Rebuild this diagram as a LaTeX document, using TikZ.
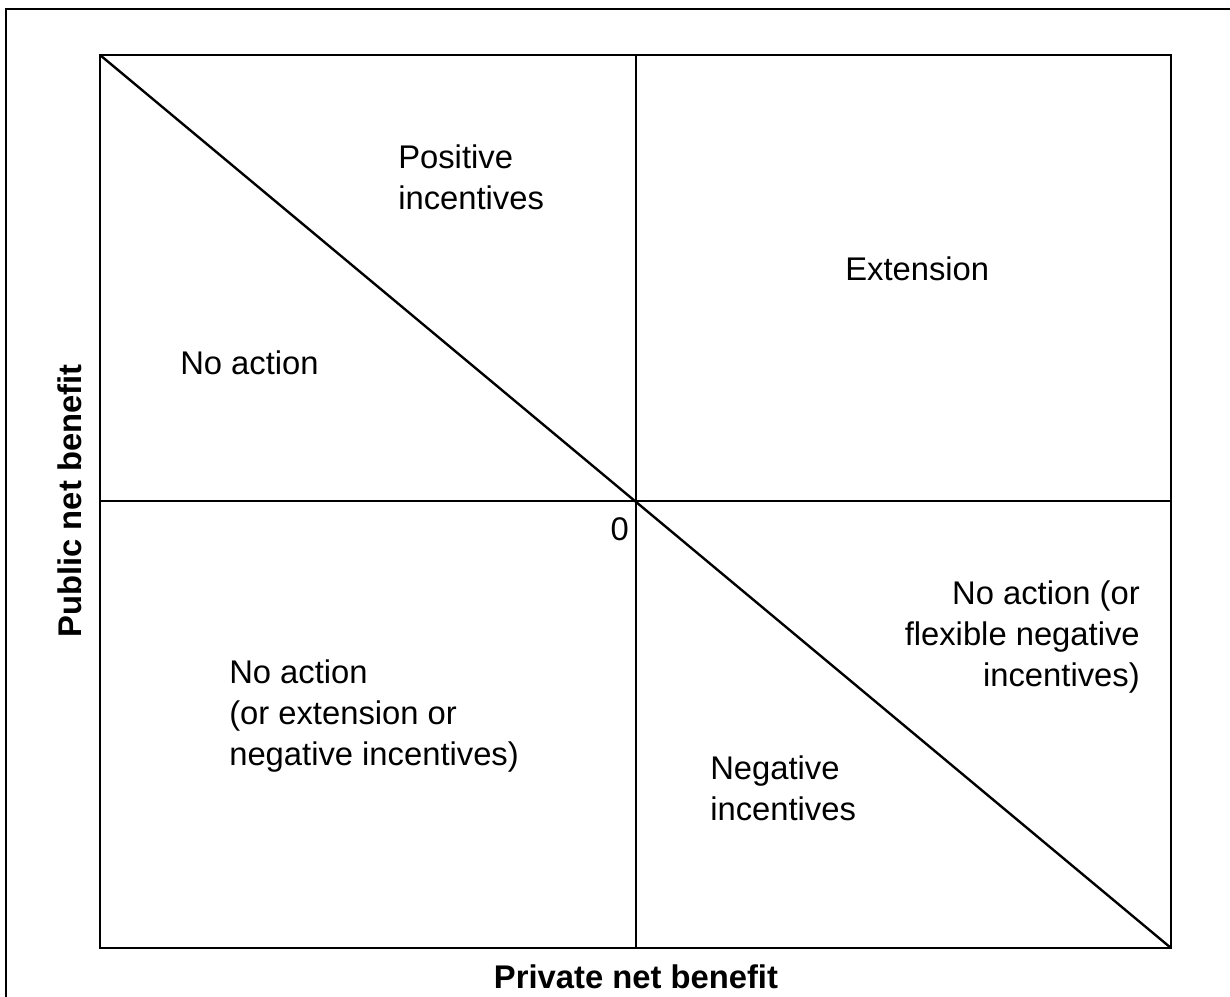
\documentclass[tikz,border=0pt]{standalone}
\usepackage{fontspec}
\setmainfont{Liberation Sans}
\usepackage{tikz}
\usetikzlibrary{positioning}

\tikzset{
    region/.style={font=\fontsize{23.3}{29}\selectfont, inner sep=0pt},
    axislabel/.style={font=\fontsize{23.3}{29}\selectfont\bfseries, inner sep=0pt},
    frameline/.style={line width=1.5pt},
    boxline/.style={line width=1.9pt},
    splitline/.style={line width=1.3pt},
}

\begin{document}
\begin{tikzpicture}[x=0.025cm, y=-0.025cm]
    \useasboundingbox (0,0) rectangle (1230,997);
    % outer frame
    \draw[frameline] (6,997) -- (6,9) -- (1230,9);

    % plot area
    \coordinate (tl) at (100,55);
    \coordinate (br) at (1171,948);
    \coordinate (o) at (636,501);
    \coordinate (top) at (636,55);
    \coordinate (bot) at (636,948);
    \coordinate (lft) at (100,501);
    \coordinate (rgt) at (1171,501);

    \draw[boxline] (tl) rectangle (br);
    \draw[splitline] (top) -- (bot);
    \draw[splitline] (lft) -- (rgt);
    \draw[line width=1.7pt] (tl) -- (br);

    % labels
    \node[region, anchor=west, align=left] (posinc) at (398,177) {Positive\\incentives};
    \node[region, anchor=west] (ext) at (845,269) {Extension};
    \node[region, anchor=west] (noact) at (180,363) {No action};
    \node[region, anchor=east] (zero) at (629,529) {0};
    \node[region, anchor=east, align=right] (noactflex) at (1140,637) {No action (or\\flexible negative\\incentives)};
    \node[region, anchor=west, align=left] (noactext) at (229,716) {No action\\(or extension or\\negative incentives)};
    \node[region, anchor=west, align=left] (neginc) at (710,788) {Negative\\incentives};

    % axes
    \node[axislabel, rotate=90] (public) at (70,501) {Public net benefit};
    \node[axislabel] (private) at (636,977) {Private net benefit};
\end{tikzpicture}
\end{document}
